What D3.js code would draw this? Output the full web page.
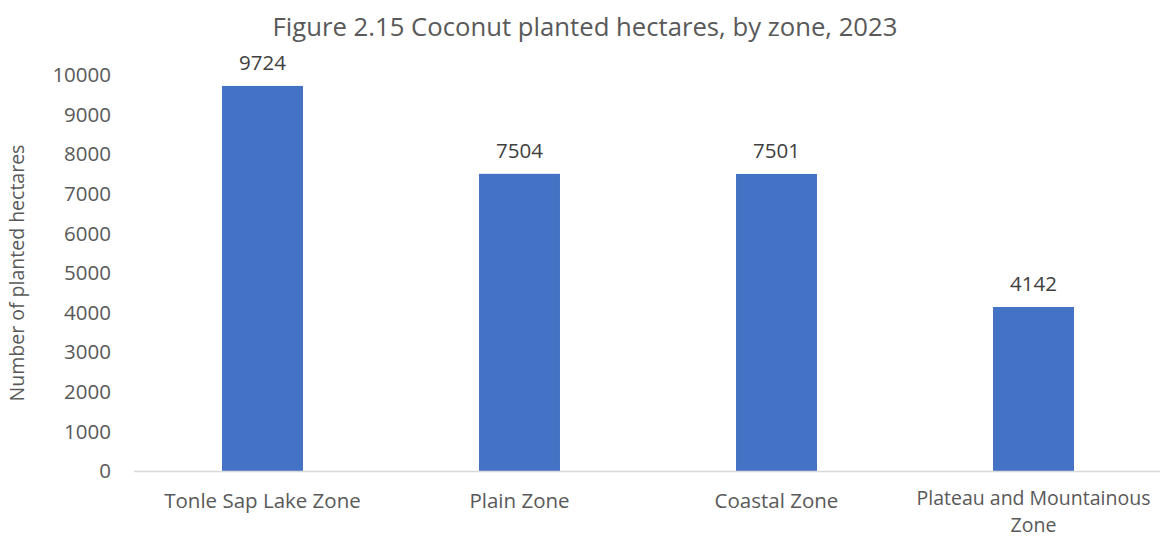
<!DOCTYPE html>
<html>
<head>
<meta charset="utf-8">
<script src="https://cdn.jsdelivr.net/npm/d3@7"></script>
<style>
  body { margin: 0; background: #fff; }
  text { font-family: "Open Sans", "Liberation Sans", sans-serif; fill: #595959; }
</style>
</head>
<body>
<div id="chart"></div>
<script>
var zones = ["Tonle Sap Lake Zone", "Plain Zone", "Coastal Zone", "Plateau and Mountainous Zone"];
var hectares = [9724, 7504, 7501, 4142];
var yTicks = [0, 1000, 2000, 3000, 4000, 5000, 6000, 7000, 8000, 9000, 10000];

var width = 1160, height = 539;
var margin = {top: 75, right: 0, bottom: 68, left: 134};

var svg = d3.select("#chart").append("svg")
  .attr("width", width).attr("height", height);

var x = d3.scaleBand()
  .domain(zones)
  .range([margin.left, 1162])
  .paddingInner(0.685).paddingOuter(0.3425);

var y = d3.scaleLinear()
  .domain([0, 10000])
  .range([height - margin.bottom, margin.top]);

// title
svg.append("text")
  .attr("x", 585).attr("y", 36)
  .attr("text-anchor", "middle")
  .style("font-size", "25.7px")
  .text("Figure 2.15 Coconut planted hectares, by zone, 2023");

// y axis labels
svg.append("g").selectAll("text")
  .data(yTicks).enter().append("text")
  .attr("x", 111).attr("y", function(d) { return y(d); })
  .attr("dy", "0.35em")
  .attr("text-anchor", "end")
  .style("font-size", "20.5px")
  .text(function(d) { return d; });

svg.append("text")
  .attr("transform", "translate(24," + y(5000) + ") rotate(-90)")
  .attr("text-anchor", "middle")
  .style("font-size", "19.5px")
  .text("Number of planted hectares");

// bars
svg.append("g").selectAll("rect")
  .data(hectares).enter().append("rect")
  .attr("x", function(d, i) { return x(zones[i]); })
  .attr("width", x.bandwidth())
  .attr("y", function(d) { return y(d); })
  .attr("height", function(d) { return y(0) - y(d); })
  .attr("fill", "#4472c4");

// value labels
svg.append("g").selectAll("text")
  .data(hectares).enter().append("text")
  .attr("x", function(d, i) { return x(zones[i]) + x.bandwidth() / 2; })
  .attr("y", function(d) { return y(d) - 16; })
  .attr("text-anchor", "middle")
  .style("font-size", "20.5px")
  .style("fill", "#404040")
  .text(function(d) { return d; });

// baseline
svg.append("line")
  .attr("x1", margin.left).attr("x2", 1162)
  .attr("y1", y(0) + 0.5).attr("y2", y(0) + 0.5)
  .attr("stroke", "#d9d9d9").attr("stroke-width", 1.5);

// category labels (the long one wraps onto two lines)
var cat = svg.append("g").selectAll("text")
  .data(zones).enter().append("text")
  .attr("x", function(d) { return x(d) + x.bandwidth() / 2; })
  .attr("y", 508)
  .attr("text-anchor", "middle")
  .style("font-size", "20.5px");
cat.each(function(d) {
  var t = d3.select(this);
  if (d === "Plateau and Mountainous Zone") {
    t.attr("y", 505).style("font-size", "19.5px");
    t.append("tspan").attr("x", x(d) + x.bandwidth() / 2).text("Plateau and Mountainous");
    t.append("tspan").attr("x", x(d) + x.bandwidth() / 2).attr("dy", 27).text("Zone");
  } else {
    t.text(d);
  }
});
</script>
</body>
</html>
